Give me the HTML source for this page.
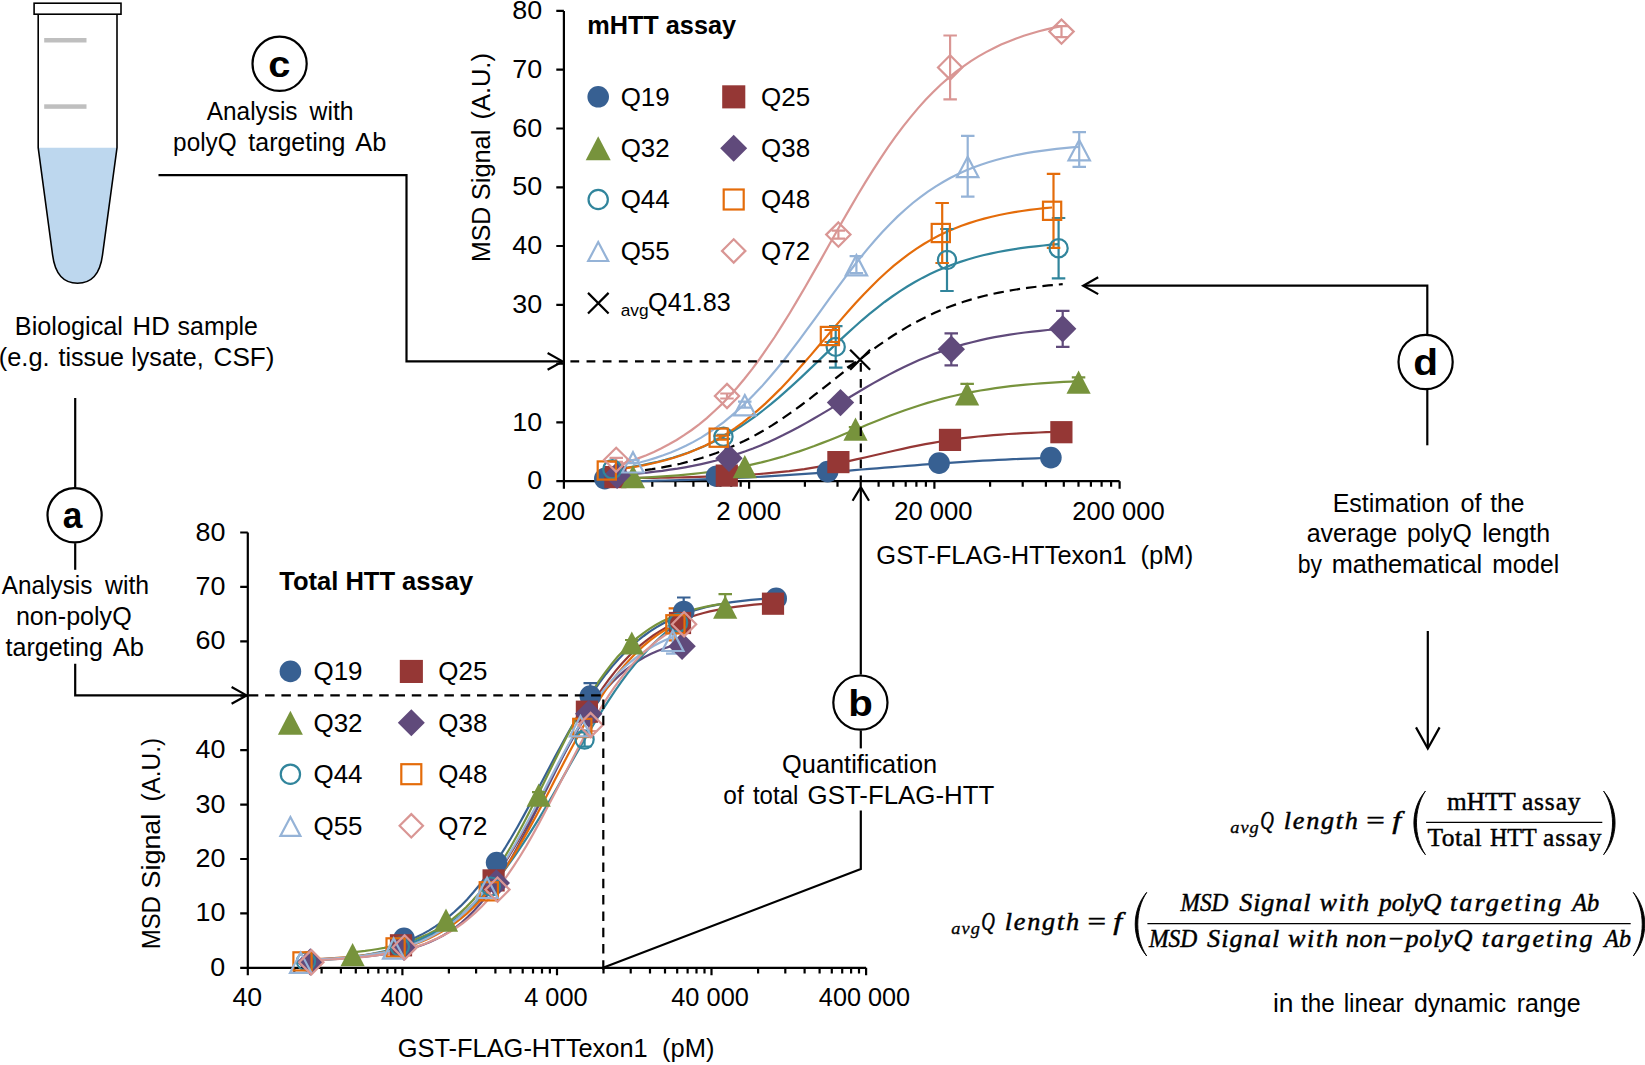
<!DOCTYPE html>
<html lang="en">
<head>
<meta charset="utf-8">
<title>mHTT / Total HTT assay polyQ length estimation workflow</title>
<style>
html,body{margin:0;padding:0;background:#fff;}
body{width:1645px;height:1065px;overflow:hidden;font-family:"Liberation Sans", Arial, Helvetica, sans-serif;}
svg text{fill:#000;}
</style>
</head>
<body>
<svg width="1645" height="1065" viewBox="0 0 1645 1065" style="display:block">
<rect x="0" y="0" width="1645" height="1065" fill="#fff"/>
<g id="tube">
<path d="M38.3,147.8 L117,147.8 L102.5,255 C100.3,272.3 92.3,283.2 77.5,283.2 C62.7,283.2 54.8,272.3 52.6,255 Z" fill="#BDD7EE"/>
<path d="M38.2,14.5 V147.8 L52.6,255 C54.8,272.3 62.7,283.2 77.5,283.2 C92.3,283.2 100.3,272.3 102.5,255 L117,147.8 V14.5" fill="none" stroke="#000" stroke-width="1.6"/>
<rect x="34.1" y="3.2" width="86.9" height="11" fill="#fff" stroke="#000" stroke-width="1.6"/>
<rect x="44.2" y="38" width="42.3" height="4.5" fill="#BFBFBF"/>
<rect x="44.2" y="104.3" width="42.3" height="4.5" fill="#BFBFBF"/>
</g>
<g id="flow">
<path d="M75.2,398V487.5" fill="none" stroke="#000" stroke-width="2.2"/>
<path d="M75.2,543.2V569.8" fill="none" stroke="#000" stroke-width="2.2"/>
<path d="M75.2,663.7V695.4H246" fill="none" stroke="#000" stroke-width="2.2"/>
<path d="M231.6,703.8L246.6,695.4L231.6,687.0" fill="none" stroke="#000" stroke-width="2.2" stroke-linejoin="miter"/>
<path d="M158.5,175.1H406.5V361.4H562" fill="none" stroke="#000" stroke-width="2.2"/>
<path d="M547.6,369.8L562.6,361.4L547.6,353.0" fill="none" stroke="#000" stroke-width="2.2" stroke-linejoin="miter"/>
<path d="M603,967.8L860.8,869V810.4" fill="none" stroke="#000" stroke-width="2.2"/>
<path d="M860.8,748.4V730.5" fill="none" stroke="#000" stroke-width="2.2"/>
<path d="M860.8,674.6V488.5" fill="none" stroke="#000" stroke-width="2.2"/>
<path d="M869.0,500.7L860.8,487.2L852.6,500.7" fill="none" stroke="#000" stroke-width="2.2" stroke-linejoin="miter"/>
<path d="M1084,285.7H1427.3V334.2" fill="none" stroke="#000" stroke-width="2.2"/>
<path d="M1098.2,277.3L1083.2,285.7L1098.2,294.1" fill="none" stroke="#000" stroke-width="2.2" stroke-linejoin="miter"/>
<path d="M1427.3,390V445.3" fill="none" stroke="#000" stroke-width="2.2"/>
<path d="M1427.8,631V747.5" fill="none" stroke="#000" stroke-width="2.2"/>
<path d="M1416.0,727.4L1427.8,748.6L1439.6,727.4" fill="none" stroke="#000" stroke-width="2.2" stroke-linejoin="miter"/>
<circle cx="74.6" cy="515.3" r="27.1" fill="#fff" stroke="#000" stroke-width="2.2"/>
<text transform="translate(62.84,527.50) scale(0.9415,1)" font-size="37.5" font-family='"Liberation Sans", Arial, Helvetica, sans-serif' font-weight="bold" font-style="normal">a</text>
<circle cx="279.6" cy="63.8" r="27.1" fill="#fff" stroke="#000" stroke-width="2.2"/>
<text transform="translate(268.31,77.30) scale(1.0612,1)" font-size="37.5" font-family='"Liberation Sans", Arial, Helvetica, sans-serif' font-weight="bold" font-style="normal">c</text>
<circle cx="860.4" cy="702.6" r="27.1" fill="#fff" stroke="#000" stroke-width="2.2"/>
<text transform="translate(848.19,715.80) scale(1.0719,1)" font-size="37.5" font-family='"Liberation Sans", Arial, Helvetica, sans-serif' font-weight="bold" font-style="normal">b</text>
<circle cx="1425.6" cy="362" r="27.1" fill="#fff" stroke="#000" stroke-width="2.2"/>
<text transform="translate(1413.18,375.00) scale(1.0825,1)" font-size="37.5" font-family='"Liberation Sans", Arial, Helvetica, sans-serif' font-weight="bold" font-style="normal">d</text>
</g>
<g id="total">
<path d="M247.8,532.5V967.8H866.1M240.2,967.8H247.8M240.2,913.4H247.8M240.2,859.0H247.8M240.2,804.6H247.8M240.2,750.1H247.8M240.2,695.7H247.8M240.2,641.3H247.8M240.2,586.9H247.8M240.2,532.5H247.8M247.8,967.8V975.3M294.3,967.8V973.4M321.6,967.8V973.4M340.9,967.8V973.4M355.8,967.8V973.4M368.1,967.8V973.4M378.4,967.8V973.4M387.4,967.8V973.4M395.3,967.8V973.4M402.4,967.8V975.3M448.9,967.8V973.4M476.1,967.8V973.4M495.4,967.8V973.4M510.4,967.8V973.4M522.7,967.8V973.4M533.0,967.8V973.4M542.0,967.8V973.4M549.9,967.8V973.4M557.0,967.8V975.3M603.5,967.8V973.4M630.7,967.8V973.4M650.0,967.8V973.4M665.0,967.8V973.4M677.2,967.8V973.4M687.6,967.8V973.4M696.5,967.8V973.4M704.5,967.8V973.4M711.5,967.8V975.3M758.1,967.8V973.4M785.3,967.8V973.4M804.6,967.8V973.4M819.6,967.8V973.4M831.8,967.8V973.4M842.2,967.8V973.4M851.1,967.8V973.4M859.0,967.8V973.4M866.1,967.8V975.3" fill="none" stroke="#000" stroke-width="2.2"/>
<text transform="translate(210.37,975.80) scale(1.0350,1)" font-size="26" font-family='"Liberation Sans", Arial, Helvetica, sans-serif' font-weight="normal" font-style="normal">0</text>
<text transform="translate(195.44,921.39) scale(1.0350,1)" font-size="26" font-family='"Liberation Sans", Arial, Helvetica, sans-serif' font-weight="normal" font-style="normal">10</text>
<text transform="translate(195.44,866.97) scale(1.0350,1)" font-size="26" font-family='"Liberation Sans", Arial, Helvetica, sans-serif' font-weight="normal" font-style="normal">20</text>
<text transform="translate(195.44,812.56) scale(1.0350,1)" font-size="26" font-family='"Liberation Sans", Arial, Helvetica, sans-serif' font-weight="normal" font-style="normal">30</text>
<text transform="translate(195.44,758.15) scale(1.0350,1)" font-size="26" font-family='"Liberation Sans", Arial, Helvetica, sans-serif' font-weight="normal" font-style="normal">40</text>
<text transform="translate(195.44,649.33) scale(1.0350,1)" font-size="26" font-family='"Liberation Sans", Arial, Helvetica, sans-serif' font-weight="normal" font-style="normal">60</text>
<text transform="translate(195.44,594.91) scale(1.0350,1)" font-size="26" font-family='"Liberation Sans", Arial, Helvetica, sans-serif' font-weight="normal" font-style="normal">70</text>
<text transform="translate(195.44,540.50) scale(1.0350,1)" font-size="26" font-family='"Liberation Sans", Arial, Helvetica, sans-serif' font-weight="normal" font-style="normal">80</text>
<text transform="translate(232.40,1006.30) scale(1.0256,1)" font-size="26" font-family='"Liberation Sans", Arial, Helvetica, sans-serif' font-weight="normal" font-style="normal">40</text>
<text transform="translate(380.42,1006.30) scale(0.9858,1)" font-size="26" font-family='"Liberation Sans", Arial, Helvetica, sans-serif' font-weight="normal" font-style="normal">400</text>
<text transform="translate(524.13,1006.30) scale(0.9763,1)" font-size="26" font-family='"Liberation Sans", Arial, Helvetica, sans-serif' font-weight="normal" font-style="normal">4 000</text>
<text transform="translate(671.23,1006.30) scale(0.9765,1)" font-size="26" font-family='"Liberation Sans", Arial, Helvetica, sans-serif' font-weight="normal" font-style="normal">40 000</text>
<text transform="translate(818.83,1006.30) scale(0.9722,1)" font-size="26" font-family='"Liberation Sans", Arial, Helvetica, sans-serif' font-weight="normal" font-style="normal">400 000</text>
</g>
<g id="mhtt">
<path d="M563.9,10.9V481.2H1119.6M556.3,481.2H563.9M556.3,422.4H563.9M556.3,363.6H563.9M556.3,304.8H563.9M556.3,246.0H563.9M556.3,187.3H563.9M556.3,128.5H563.9M556.3,69.7H563.9M556.3,10.9H563.9M563.9,481.2V488.7M619.7,481.2V486.8M652.3,481.2V486.8M675.4,481.2V486.8M693.4,481.2V486.8M708.0,481.2V486.8M720.4,481.2V486.8M731.2,481.2V486.8M740.7,481.2V486.8M749.1,481.2V488.7M804.9,481.2V486.8M837.5,481.2V486.8M860.7,481.2V486.8M878.6,481.2V486.8M893.3,481.2V486.8M905.7,481.2V486.8M916.4,481.2V486.8M925.9,481.2V486.8M934.4,481.2V488.7M990.1,481.2V486.8M1022.7,481.2V486.8M1045.9,481.2V486.8M1063.8,481.2V486.8M1078.5,481.2V486.8M1090.9,481.2V486.8M1101.6,481.2V486.8M1111.1,481.2V486.8M1119.6,481.2V488.7" fill="none" stroke="#000" stroke-width="2.2"/>
<text transform="translate(527.27,489.30) scale(1.0350,1)" font-size="26" font-family='"Liberation Sans", Arial, Helvetica, sans-serif' font-weight="normal" font-style="normal">0</text>
<text transform="translate(512.34,430.51) scale(1.0350,1)" font-size="26" font-family='"Liberation Sans", Arial, Helvetica, sans-serif' font-weight="normal" font-style="normal">10</text>
<text transform="translate(512.34,312.94) scale(1.0350,1)" font-size="26" font-family='"Liberation Sans", Arial, Helvetica, sans-serif' font-weight="normal" font-style="normal">30</text>
<text transform="translate(512.34,254.15) scale(1.0350,1)" font-size="26" font-family='"Liberation Sans", Arial, Helvetica, sans-serif' font-weight="normal" font-style="normal">40</text>
<text transform="translate(512.34,195.36) scale(1.0350,1)" font-size="26" font-family='"Liberation Sans", Arial, Helvetica, sans-serif' font-weight="normal" font-style="normal">50</text>
<text transform="translate(512.34,136.57) scale(1.0350,1)" font-size="26" font-family='"Liberation Sans", Arial, Helvetica, sans-serif' font-weight="normal" font-style="normal">60</text>
<text transform="translate(512.34,77.79) scale(1.0350,1)" font-size="26" font-family='"Liberation Sans", Arial, Helvetica, sans-serif' font-weight="normal" font-style="normal">70</text>
<text transform="translate(512.34,19.00) scale(1.0350,1)" font-size="26" font-family='"Liberation Sans", Arial, Helvetica, sans-serif' font-weight="normal" font-style="normal">80</text>
<text transform="translate(542.01,519.70) scale(0.9956,1)" font-size="26" font-family='"Liberation Sans", Arial, Helvetica, sans-serif' font-weight="normal" font-style="normal">200</text>
<text transform="translate(716.20,519.70) scale(0.9986,1)" font-size="26" font-family='"Liberation Sans", Arial, Helvetica, sans-serif' font-weight="normal" font-style="normal">2 000</text>
<text transform="translate(894.22,519.70) scale(0.9855,1)" font-size="26" font-family='"Liberation Sans", Arial, Helvetica, sans-serif' font-weight="normal" font-style="normal">20 000</text>
<text transform="translate(1072.22,519.70) scale(0.9853,1)" font-size="26" font-family='"Liberation Sans", Arial, Helvetica, sans-serif' font-weight="normal" font-style="normal">200 000</text>
</g>
<g id="total-data">
<path d="M404.0,942.5 L410.3,940.0 L416.6,937.1 L422.9,933.9 L429.2,930.4 L435.5,926.4 L441.9,922.0 L448.2,917.2 L454.5,911.8 L460.8,905.9 L467.1,899.4 L473.4,892.3 L479.7,884.7 L486.0,876.4 L492.3,867.6 L498.6,858.1 L504.9,848.2 L511.2,837.7 L517.6,826.7 L523.9,815.4 L530.2,803.8 L536.5,791.9 L542.8,780.0 L549.1,768.0 L555.4,756.1 L561.7,744.4 L568.0,733.0 L574.3,722.0 L580.6,711.4 L586.9,701.2 L593.3,691.6 L599.6,682.6 L605.9,674.2 L612.2,666.4 L618.5,659.2 L624.8,652.6 L631.1,646.5 L637.4,641.0 L643.7,636.0 L650.0,631.4 L656.3,627.4 L662.6,623.7 L669.0,620.4 L675.3,617.5 L681.6,614.9 L687.9,612.6 L694.2,610.5 L700.5,608.7 L706.8,607.0 L713.1,605.6 L719.4,604.3 L725.7,603.2 L732.0,602.2 L738.3,601.3 L744.7,600.6 L751.0,599.9 L757.3,599.3 L763.6,598.8 L769.9,598.3 L776.2,597.9" fill="none" stroke="#376092" stroke-width="2.2"/>
<path d="M401.0,948.1 L407.3,946.1 L413.6,943.9 L419.9,941.4 L426.2,938.6 L432.5,935.4 L438.8,931.8 L445.1,927.9 L451.4,923.4 L457.7,918.4 L464.1,912.9 L470.4,906.9 L476.7,900.2 L483.0,892.9 L489.3,885.0 L495.6,876.4 L501.9,867.2 L508.2,857.4 L514.5,847.0 L520.8,836.1 L527.1,824.7 L533.4,812.9 L539.7,800.9 L546.0,788.7 L552.3,776.4 L558.6,764.1 L564.9,752.0 L571.2,740.2 L577.5,728.7 L583.8,717.7 L590.2,707.2 L596.5,697.2 L602.8,687.9 L609.1,679.2 L615.4,671.1 L621.7,663.7 L628.0,656.9 L634.3,650.7 L640.6,645.1 L646.9,640.1 L653.2,635.5 L659.5,631.4 L665.8,627.8 L672.1,624.5 L678.4,621.6 L684.7,619.1 L691.0,616.8 L697.3,614.8 L703.6,613.0 L709.9,611.4 L716.3,610.1 L722.6,608.9 L728.9,607.8 L735.2,606.9 L741.5,606.1 L747.8,605.3 L754.1,604.7 L760.4,604.2 L766.7,603.7 L773.0,603.3" fill="none" stroke="#953735" stroke-width="2.2"/>
<path d="M352.6,952.3 L358.9,951.6 L365.2,950.9 L371.5,950.0 L377.9,949.0 L384.2,947.9 L390.5,946.6 L396.8,945.1 L403.1,943.4 L409.4,941.5 L415.8,939.3 L422.1,936.8 L428.4,933.9 L434.7,930.6 L441.0,926.9 L447.3,922.8 L453.6,918.1 L460.0,912.9 L466.3,907.1 L472.6,900.6 L478.9,893.5 L485.2,885.6 L491.5,877.1 L497.9,867.8 L504.2,857.8 L510.5,847.2 L516.8,836.0 L523.1,824.2 L529.4,811.9 L535.7,799.3 L542.1,786.5 L548.4,773.6 L554.7,760.7 L561.0,748.0 L567.3,735.5 L573.6,723.5 L579.9,712.0 L586.3,701.1 L592.6,690.8 L598.9,681.2 L605.2,672.3 L611.5,664.1 L617.8,656.6 L624.2,649.9 L630.5,643.7 L636.8,638.2 L643.1,633.3 L649.4,628.9 L655.7,625.0 L662.0,621.6 L668.4,618.5 L674.7,615.8 L681.0,613.5 L687.3,611.4 L693.6,609.6 L699.9,608.0 L706.3,606.6 L712.6,605.4 L718.9,604.4 L725.2,603.5" fill="none" stroke="#77933C" stroke-width="2.2"/>
<path d="M310.4,959.3 L316.7,959.2 L323.0,959.0 L329.3,958.7 L335.6,958.5 L341.9,958.2 L348.2,957.8 L354.5,957.4 L360.8,956.9 L367.1,956.3 L373.4,955.7 L379.7,954.9 L386.0,954.0 L392.3,952.9 L398.6,951.7 L404.9,950.3 L411.2,948.6 L417.5,946.7 L423.8,944.5 L430.1,942.0 L436.4,939.1 L442.7,935.7 L449.0,931.9 L455.3,927.5 L461.6,922.5 L467.9,916.9 L474.2,910.6 L480.5,903.6 L486.8,895.8 L493.1,887.3 L499.4,878.0 L505.7,867.9 L512.0,857.0 L518.3,845.6 L524.6,833.6 L530.9,821.1 L537.2,808.4 L543.5,795.5 L549.8,782.7 L556.1,770.0 L562.4,757.6 L568.7,745.7 L575.0,734.4 L581.3,723.7 L587.6,713.8 L593.9,704.6 L600.2,696.2 L606.5,688.6 L612.8,681.8 L619.1,675.6 L625.4,670.2 L631.7,665.3 L638.0,661.1 L644.3,657.3 L650.6,654.1 L656.9,651.2 L663.2,648.8 L669.5,646.6 L675.8,644.8 L682.1,643.2" fill="none" stroke="#604A7B" stroke-width="2.2"/>
<path d="M306.0,961.4 L312.3,961.0 L318.6,960.5 L324.9,960.0 L331.2,959.4 L337.5,958.8 L343.8,958.1 L350.1,957.3 L356.5,956.4 L362.8,955.4 L369.1,954.3 L375.4,953.1 L381.7,951.7 L388.0,950.2 L394.3,948.5 L400.6,946.6 L406.9,944.5 L413.2,942.2 L419.5,939.7 L425.8,936.8 L432.1,933.7 L438.4,930.3 L444.7,926.5 L451.1,922.4 L457.4,917.9 L463.7,912.9 L470.0,907.6 L476.3,901.7 L482.6,895.5 L488.9,888.7 L495.2,881.5 L501.5,873.7 L507.8,865.5 L514.1,856.8 L520.4,847.7 L526.7,838.1 L533.0,828.1 L539.4,817.9 L545.7,807.3 L552.0,796.5 L558.3,785.5 L564.6,774.4 L570.9,763.3 L577.2,752.3 L583.5,741.4 L589.8,730.7 L596.1,720.2 L602.4,710.1 L608.7,700.3 L615.0,690.9 L621.3,681.9 L627.6,673.4 L634.0,665.4 L640.3,657.9 L646.6,650.9 L652.9,644.3 L659.2,638.2 L665.5,632.6 L671.8,627.4 L678.1,622.7" fill="none" stroke="#31859C" stroke-width="2.2"/>
<path d="M302.5,959.7 L308.8,959.5 L315.1,959.2 L321.5,958.9 L327.8,958.5 L334.1,958.1 L340.4,957.7 L346.7,957.2 L353.1,956.6 L359.4,955.9 L365.7,955.1 L372.0,954.2 L378.3,953.2 L384.7,952.1 L391.0,950.8 L397.3,949.3 L403.6,947.6 L409.9,945.8 L416.3,943.6 L422.6,941.2 L428.9,938.5 L435.2,935.4 L441.5,931.9 L447.9,928.0 L454.2,923.7 L460.5,918.9 L466.8,913.6 L473.1,907.7 L479.5,901.2 L485.8,894.1 L492.1,886.4 L498.4,878.0 L504.8,869.0 L511.1,859.3 L517.4,849.1 L523.7,838.4 L530.0,827.1 L536.4,815.5 L542.7,803.6 L549.0,791.4 L555.3,779.1 L561.6,766.9 L568.0,754.8 L574.3,742.9 L580.6,731.3 L586.9,720.1 L593.2,709.4 L599.6,699.3 L605.9,689.7 L612.2,680.8 L618.5,672.5 L624.8,664.9 L631.2,657.9 L637.5,651.5 L643.8,645.7 L650.1,640.4 L656.4,635.7 L662.8,631.4 L669.1,627.6 L675.4,624.2" fill="none" stroke="#E46C0A" stroke-width="2.2"/>
<path d="M300.7,959.9 L307.0,959.7 L313.3,959.5 L319.6,959.2 L325.9,958.9 L332.2,958.5 L338.5,958.1 L344.8,957.6 L351.2,957.0 L357.5,956.3 L363.8,955.6 L370.1,954.7 L376.4,953.7 L382.7,952.6 L389.0,951.3 L395.3,949.8 L401.6,948.1 L407.9,946.2 L414.2,944.0 L420.5,941.5 L426.8,938.6 L433.1,935.4 L439.4,931.8 L445.8,927.8 L452.1,923.2 L458.4,918.1 L464.7,912.4 L471.0,906.2 L477.3,899.3 L483.6,891.7 L489.9,883.5 L496.2,874.6 L502.5,865.1 L508.8,854.9 L515.1,844.2 L521.4,833.0 L527.7,821.4 L534.1,809.5 L540.4,797.5 L546.7,785.3 L553.0,773.2 L559.3,761.2 L565.6,749.6 L571.9,738.3 L578.2,727.5 L584.5,717.3 L590.8,707.7 L597.1,698.7 L603.4,690.3 L609.7,682.7 L616.0,675.6 L622.3,669.3 L628.7,663.5 L635.0,658.3 L641.3,653.6 L647.6,649.5 L653.9,645.8 L660.2,642.5 L666.5,639.6 L672.8,637.1" fill="none" stroke="#95B3D7" stroke-width="2.2"/>
<path d="M311.4,960.3 L317.7,960.1 L324.0,959.8 L330.4,959.5 L336.7,959.1 L343.0,958.7 L349.3,958.2 L355.6,957.7 L361.9,957.1 L368.3,956.4 L374.6,955.6 L380.9,954.7 L387.2,953.6 L393.5,952.5 L399.8,951.1 L406.2,949.6 L412.5,947.9 L418.8,945.9 L425.1,943.7 L431.4,941.1 L437.7,938.3 L444.1,935.1 L450.4,931.5 L456.7,927.5 L463.0,923.0 L469.3,918.0 L475.6,912.5 L482.0,906.3 L488.3,899.6 L494.6,892.3 L500.9,884.3 L507.2,875.7 L513.5,866.4 L519.9,856.5 L526.2,846.1 L532.5,835.1 L538.8,823.6 L545.1,811.8 L551.4,799.8 L557.8,787.5 L564.1,775.2 L570.4,762.9 L576.7,750.8 L583.0,739.0 L589.3,727.6 L595.7,716.6 L602.0,706.1 L608.3,696.2 L614.6,686.9 L620.9,678.3 L627.2,670.3 L633.6,662.9 L639.9,656.2 L646.2,650.1 L652.5,644.5 L658.8,639.5 L665.1,635.0 L671.5,631.0 L677.8,627.4 L684.1,624.2" fill="none" stroke="#D99694" stroke-width="2.2"/>
<path d="M590.3,683.1V709.1M583.5,683.1h13.5M583.5,709.1h13.5" fill="none" stroke="#376092" stroke-width="2.2"/>
<path d="M683.7,597.5V625.5M677.0,597.5h13.5M677.0,625.5h13.5" fill="none" stroke="#376092" stroke-width="2.2"/>
<path d="M538.7,792.1V798.1M532.0,792.1h13.5M532.0,798.1h13.5" fill="none" stroke="#77933C" stroke-width="2.2"/>
<path d="M631.8,640.0V646.0M625.0,640.0h13.5M625.0,646.0h13.5" fill="none" stroke="#77933C" stroke-width="2.2"/>
<path d="M725.2,594.1V607.1M718.5,594.1h13.5" fill="none" stroke="#77933C" stroke-width="2.2"/>
<path d="M584.6,732.5V746.5M577.9,732.5h13.5M577.9,746.5h13.5" fill="none" stroke="#31859C" stroke-width="2.2"/>
<path d="M675.4,608.3V640.3M668.6,608.3h13.5M668.6,640.3h13.5" fill="none" stroke="#E46C0A" stroke-width="2.2"/>
<path d="M672.8,626.7V653.7M666.0,626.7h13.5M666.0,653.7h13.5" fill="none" stroke="#95B3D7" stroke-width="2.2"/>
<path d="M590.6,719.0V731.0M583.9,719.0h13.5M583.9,731.0h13.5" fill="none" stroke="#D99694" stroke-width="2.2"/>
<circle cx="404.0" cy="938.3" r="10.80" fill="#376092"/>
<circle cx="496.6" cy="862.6" r="10.80" fill="#376092"/>
<circle cx="590.3" cy="696.1" r="10.80" fill="#376092"/>
<circle cx="683.7" cy="611.5" r="10.80" fill="#376092"/>
<circle cx="776.2" cy="598.4" r="10.80" fill="#376092"/>
<rect x="389.9" y="934.2" width="22.2" height="22.2" fill="#953735"/>
<rect x="482.5" y="869.3" width="22.2" height="22.2" fill="#953735"/>
<rect x="575.8" y="700.6" width="22.2" height="22.2" fill="#953735"/>
<rect x="668.9" y="611.9" width="22.2" height="22.2" fill="#953735"/>
<rect x="761.9" y="592.6" width="22.2" height="22.2" fill="#953735"/>
<polygon points="352.6,943.1 364.7,966.3 340.5,966.3" fill="#77933C"/>
<polygon points="446.0,908.6 458.1,931.8 433.9,931.8" fill="#77933C"/>
<polygon points="538.7,783.5 550.8,806.7 526.6,806.7" fill="#77933C"/>
<polygon points="631.8,631.4 643.9,654.6 619.7,654.6" fill="#77933C"/>
<polygon points="725.2,595.5 737.3,618.7 713.1,618.7" fill="#77933C"/>
<polygon points="310.4,948.3 324.1,962.0 310.4,975.7 296.7,962.0" fill="#604A7B"/>
<polygon points="404.0,933.7 417.7,947.4 404.0,961.1 390.3,947.4" fill="#604A7B"/>
<polygon points="496.3,869.3 510.0,883.0 496.3,896.7 482.6,883.0" fill="#604A7B"/>
<polygon points="588.7,700.0 602.4,713.7 588.7,727.4 575.0,713.7" fill="#604A7B"/>
<polygon points="682.1,632.6 695.8,646.3 682.1,660.0 668.4,646.3" fill="#604A7B"/>
<circle cx="306.0" cy="961.4" r="9.10" fill="none" stroke="#31859C" stroke-width="2.2"/>
<circle cx="399.8" cy="946.8" r="9.10" fill="none" stroke="#31859C" stroke-width="2.2"/>
<circle cx="490.8" cy="886.6" r="9.10" fill="none" stroke="#31859C" stroke-width="2.2"/>
<circle cx="584.6" cy="739.5" r="9.10" fill="none" stroke="#31859C" stroke-width="2.2"/>
<circle cx="678.1" cy="622.7" r="9.10" fill="none" stroke="#31859C" stroke-width="2.2"/>
<rect x="293.4" y="952.3" width="18.2" height="18.2" fill="none" stroke="#E46C0A" stroke-width="2.2"/>
<rect x="386.5" y="938.3" width="18.2" height="18.2" fill="none" stroke="#E46C0A" stroke-width="2.2"/>
<rect x="479.7" y="882.2" width="18.2" height="18.2" fill="none" stroke="#E46C0A" stroke-width="2.2"/>
<rect x="573.2" y="718.8" width="18.2" height="18.2" fill="none" stroke="#E46C0A" stroke-width="2.2"/>
<rect x="666.3" y="615.2" width="18.2" height="18.2" fill="none" stroke="#E46C0A" stroke-width="2.2"/>
<polygon points="300.7,952.5 311.4,972.8 290.0,972.8" fill="none" stroke="#95B3D7" stroke-width="2.2" stroke-linejoin="miter"/>
<polygon points="393.7,938.4 404.4,958.7 383.0,958.7" fill="none" stroke="#95B3D7" stroke-width="2.2" stroke-linejoin="miter"/>
<polygon points="487.1,877.7 497.8,898.0 476.4,898.0" fill="none" stroke="#95B3D7" stroke-width="2.2" stroke-linejoin="miter"/>
<polygon points="580.5,716.0 591.2,736.3 569.8,736.3" fill="none" stroke="#95B3D7" stroke-width="2.2" stroke-linejoin="miter"/>
<polygon points="672.8,630.7 683.5,651.0 662.1,651.0" fill="none" stroke="#95B3D7" stroke-width="2.2" stroke-linejoin="miter"/>
<polygon points="311.4,950.1 323.5,962.2 311.4,974.4 299.2,962.2" fill="none" stroke="#D99694" stroke-width="2.2" stroke-linejoin="miter"/>
<polygon points="404.6,935.2 416.8,947.4 404.6,959.5 392.5,947.4" fill="none" stroke="#D99694" stroke-width="2.2" stroke-linejoin="miter"/>
<polygon points="497.5,877.5 509.6,889.6 497.5,901.8 485.4,889.6" fill="none" stroke="#D99694" stroke-width="2.2" stroke-linejoin="miter"/>
<polygon points="590.6,712.9 602.8,725.0 590.6,737.1 578.5,725.0" fill="none" stroke="#D99694" stroke-width="2.2" stroke-linejoin="miter"/>
<polygon points="684.1,612.1 696.2,624.3 684.1,636.4 672.0,624.3" fill="none" stroke="#D99694" stroke-width="2.2" stroke-linejoin="miter"/>
<path d="M248.8,695.4H603.3V973" fill="none" stroke="#000" stroke-width="2.2" stroke-dasharray="9.5 6.8"/>
</g>
<g id="mhtt-data">
<path d="M604.8,481.6 L612.4,481.5 L619.9,481.4 L627.5,481.3 L635.0,481.1 L642.6,481.0 L650.2,480.8 L657.7,480.7 L665.3,480.5 L672.8,480.3 L680.4,480.1 L688.0,479.8 L695.5,479.6 L703.1,479.3 L710.7,479.1 L718.2,478.8 L725.8,478.4 L733.3,478.1 L740.9,477.7 L748.5,477.4 L756.0,477.0 L763.6,476.6 L771.1,476.1 L778.7,475.7 L786.3,475.2 L793.8,474.7 L801.4,474.2 L808.9,473.6 L816.5,473.1 L824.1,472.5 L831.6,471.9 L839.2,471.4 L846.8,470.8 L854.3,470.2 L861.9,469.5 L869.4,468.9 L877.0,468.3 L884.6,467.7 L892.1,467.1 L899.7,466.5 L907.2,465.9 L914.8,465.3 L922.4,464.7 L929.9,464.2 L937.5,463.6 L945.0,463.1 L952.6,462.6 L960.2,462.1 L967.7,461.6 L975.3,461.2 L982.9,460.7 L990.4,460.3 L998.0,459.9 L1005.5,459.6 L1013.1,459.2 L1020.7,458.9 L1028.2,458.6 L1035.8,458.3 L1043.3,458.0 L1050.9,457.7" fill="none" stroke="#376092" stroke-width="2.2"/>
<path d="M615.4,478.1 L623.0,478.1 L630.5,478.0 L638.1,477.9 L645.6,477.9 L653.2,477.8 L660.8,477.7 L668.3,477.6 L675.9,477.5 L683.4,477.3 L691.0,477.1 L698.6,476.9 L706.1,476.7 L713.7,476.5 L721.2,476.2 L728.8,475.9 L736.3,475.5 L743.9,475.1 L751.5,474.6 L759.0,474.0 L766.6,473.4 L774.1,472.7 L781.7,471.9 L789.3,471.1 L796.8,470.1 L804.4,469.1 L811.9,467.9 L819.5,466.7 L827.1,465.4 L834.6,463.9 L842.2,462.4 L849.7,460.8 L857.3,459.2 L864.9,457.5 L872.4,455.7 L880.0,454.0 L887.5,452.3 L895.1,450.5 L902.7,448.9 L910.2,447.2 L917.8,445.7 L925.3,444.2 L932.9,442.8 L940.5,441.5 L948.0,440.3 L955.6,439.2 L963.1,438.2 L970.7,437.3 L978.2,436.5 L985.8,435.8 L993.4,435.1 L1000.9,434.6 L1008.5,434.0 L1016.0,433.6 L1023.6,433.2 L1031.2,432.8 L1038.7,432.5 L1046.3,432.2 L1053.8,432.0 L1061.4,431.8" fill="none" stroke="#953735" stroke-width="2.2"/>
<path d="M633.0,478.1 L640.6,477.8 L648.1,477.4 L655.7,476.9 L663.2,476.4 L670.8,475.9 L678.3,475.3 L685.9,474.6 L693.4,473.8 L701.0,473.0 L708.5,472.1 L716.1,471.0 L723.6,469.9 L731.2,468.7 L738.7,467.3 L746.3,465.8 L753.8,464.1 L761.4,462.4 L768.9,460.5 L776.5,458.4 L784.1,456.2 L791.6,453.8 L799.2,451.4 L806.7,448.7 L814.3,446.0 L821.8,443.1 L829.4,440.2 L836.9,437.2 L844.5,434.1 L852.0,431.0 L859.6,427.9 L867.1,424.8 L874.7,421.8 L882.2,418.8 L889.8,415.8 L897.3,413.0 L904.9,410.3 L912.4,407.7 L920.0,405.2 L927.5,402.9 L935.1,400.7 L942.7,398.6 L950.2,396.7 L957.8,395.0 L965.3,393.4 L972.9,391.9 L980.4,390.5 L988.0,389.3 L995.5,388.2 L1003.1,387.2 L1010.6,386.2 L1018.2,385.4 L1025.7,384.7 L1033.3,384.0 L1040.8,383.4 L1048.4,382.9 L1055.9,382.4 L1063.5,381.9 L1071.0,381.6 L1078.6,381.2" fill="none" stroke="#77933C" stroke-width="2.2"/>
<path d="M617.1,475.2 L624.7,474.7 L632.2,474.1 L639.8,473.4 L647.3,472.6 L654.9,471.7 L662.4,470.8 L670.0,469.7 L677.5,468.6 L685.1,467.3 L692.6,465.9 L700.2,464.3 L707.7,462.6 L715.3,460.7 L722.8,458.6 L730.4,456.4 L737.9,453.9 L745.5,451.3 L753.0,448.5 L760.6,445.4 L768.2,442.2 L775.7,438.7 L783.3,435.1 L790.8,431.3 L798.4,427.3 L805.9,423.1 L813.5,418.8 L821.0,414.4 L828.6,409.9 L836.1,405.4 L843.7,400.8 L851.2,396.2 L858.8,391.7 L866.3,387.3 L873.9,382.9 L881.4,378.7 L889.0,374.6 L896.5,370.7 L904.1,366.9 L911.6,363.4 L919.2,360.0 L926.8,356.9 L934.3,353.9 L941.9,351.2 L949.4,348.6 L957.0,346.3 L964.5,344.1 L972.1,342.2 L979.6,340.4 L987.2,338.7 L994.7,337.2 L1002.3,335.9 L1009.8,334.6 L1017.4,333.5 L1024.9,332.5 L1032.5,331.6 L1040.0,330.8 L1047.6,330.0 L1055.1,329.4 L1062.7,328.8" fill="none" stroke="#604A7B" stroke-width="2.2"/>
<path d="M612.3,469.7 L619.9,468.7 L627.4,467.6 L635.0,466.3 L642.6,465.0 L650.1,463.4 L657.7,461.7 L665.3,459.8 L672.8,457.7 L680.4,455.3 L687.9,452.7 L695.5,449.8 L703.1,446.7 L710.6,443.3 L718.2,439.5 L725.8,435.4 L733.3,431.0 L740.9,426.3 L748.5,421.2 L756.0,415.8 L763.6,410.0 L771.2,403.9 L778.7,397.6 L786.3,390.9 L793.8,384.1 L801.4,377.1 L809.0,369.9 L816.5,362.7 L824.1,355.4 L831.7,348.1 L839.2,340.9 L846.8,333.9 L854.4,327.0 L861.9,320.3 L869.5,313.9 L877.1,307.8 L884.6,302.0 L892.2,296.5 L899.7,291.3 L907.3,286.5 L914.9,282.0 L922.4,277.9 L930.0,274.1 L937.6,270.6 L945.1,267.4 L952.7,264.5 L960.3,261.9 L967.8,259.5 L975.4,257.3 L983.0,255.3 L990.5,253.6 L998.1,252.0 L1005.6,250.6 L1013.2,249.3 L1020.8,248.2 L1028.3,247.2 L1035.9,246.3 L1043.5,245.5 L1051.0,244.7 L1058.6,244.1" fill="none" stroke="#31859C" stroke-width="2.2"/>
<path d="M606.8,470.7 L614.3,469.8 L621.9,468.8 L629.4,467.7 L637.0,466.5 L644.5,465.1 L652.1,463.5 L659.6,461.7 L667.2,459.7 L674.7,457.5 L682.3,455.0 L689.8,452.2 L697.4,449.1 L704.9,445.7 L712.5,441.9 L720.0,437.7 L727.6,433.1 L735.1,428.1 L742.7,422.6 L750.2,416.7 L757.7,410.4 L765.3,403.6 L772.8,396.4 L780.4,388.9 L787.9,380.9 L795.5,372.6 L803.0,364.1 L810.6,355.4 L818.1,346.5 L825.7,337.6 L833.2,328.7 L840.8,319.9 L848.3,311.3 L855.9,302.8 L863.4,294.7 L871.0,286.9 L878.5,279.5 L886.1,272.5 L893.6,265.9 L901.2,259.8 L908.7,254.1 L916.2,248.8 L923.8,244.0 L931.3,239.6 L938.9,235.6 L946.4,232.0 L954.0,228.7 L961.5,225.7 L969.1,223.1 L976.6,220.7 L984.2,218.6 L991.7,216.7 L999.3,215.0 L1006.8,213.5 L1014.4,212.2 L1021.9,211.0 L1029.5,209.9 L1037.0,209.0 L1044.6,208.2 L1052.1,207.5" fill="none" stroke="#E46C0A" stroke-width="2.2"/>
<path d="M633.0,464.2 L640.6,462.3 L648.1,460.2 L655.7,457.9 L663.3,455.3 L670.8,452.5 L678.4,449.3 L685.9,445.8 L693.5,441.9 L701.1,437.6 L708.6,432.8 L716.2,427.7 L723.8,422.1 L731.3,415.9 L738.9,409.3 L746.4,402.2 L754.0,394.6 L761.6,386.6 L769.1,378.0 L776.7,369.0 L784.3,359.7 L791.8,349.9 L799.4,339.9 L806.9,329.7 L814.5,319.3 L822.1,308.9 L829.6,298.4 L837.2,288.1 L844.8,277.9 L852.3,268.0 L859.9,258.3 L867.4,249.1 L875.0,240.2 L882.6,231.8 L890.1,223.9 L897.7,216.4 L905.3,209.5 L912.8,203.0 L920.4,197.1 L927.9,191.6 L935.5,186.6 L943.1,182.0 L950.6,177.8 L958.2,174.0 L965.8,170.6 L973.3,167.5 L980.9,164.7 L988.4,162.2 L996.0,160.0 L1003.6,158.0 L1011.1,156.2 L1018.7,154.6 L1026.3,153.2 L1033.8,151.9 L1041.4,150.8 L1048.9,149.8 L1056.5,148.9 L1064.1,148.1 L1071.6,147.4 L1079.2,146.8" fill="none" stroke="#95B3D7" stroke-width="2.2"/>
<path d="M616.2,465.4 L623.7,463.2 L631.3,460.8 L638.8,458.1 L646.4,455.2 L653.9,451.9 L661.5,448.3 L669.0,444.3 L676.6,440.0 L684.1,435.2 L691.7,430.0 L699.2,424.3 L706.8,418.1 L714.3,411.3 L721.9,404.1 L729.4,396.2 L737.0,387.8 L744.5,378.8 L752.1,369.1 L759.6,359.0 L767.1,348.2 L774.7,337.0 L782.2,325.2 L789.8,313.0 L797.3,300.4 L804.9,287.5 L812.4,274.4 L820.0,261.1 L827.5,247.7 L835.1,234.3 L842.6,221.0 L850.2,207.9 L857.7,195.0 L865.3,182.4 L872.8,170.3 L880.4,158.6 L887.9,147.4 L895.5,136.7 L903.0,126.6 L910.6,117.1 L918.1,108.1 L925.6,99.7 L933.2,92.0 L940.7,84.7 L948.3,78.1 L955.8,71.9 L963.4,66.3 L970.9,61.1 L978.5,56.4 L986.0,52.1 L993.6,48.2 L1001.1,44.6 L1008.7,41.4 L1016.2,38.5 L1023.8,35.8 L1031.3,33.5 L1038.9,31.3 L1046.4,29.4 L1054.0,27.6 L1061.5,26.1" fill="none" stroke="#D99694" stroke-width="2.2"/>
<path d="M645.0,470.2 L652.1,469.2 L659.2,468.0 L666.2,466.7 L673.3,465.3 L680.4,463.7 L687.5,461.9 L694.6,460.0 L701.6,458.0 L708.7,455.7 L715.8,453.2 L722.9,450.5 L730.0,447.6 L737.0,444.4 L744.1,441.0 L751.2,437.4 L758.3,433.5 L765.4,429.4 L772.4,425.1 L779.5,420.5 L786.6,415.7 L793.7,410.7 L800.8,405.5 L807.8,400.2 L814.9,394.7 L822.0,389.2 L829.1,383.6 L836.2,377.9 L843.2,372.3 L850.3,366.7 L857.4,361.2 L864.5,355.8 L871.5,350.5 L878.6,345.4 L885.7,340.5 L892.8,335.8 L899.9,331.4 L906.9,327.1 L914.0,323.1 L921.1,319.4 L928.2,315.9 L935.3,312.6 L942.3,309.6 L949.4,306.8 L956.5,304.2 L963.6,301.8 L970.7,299.6 L977.7,297.6 L984.8,295.8 L991.9,294.1 L999.0,292.6 L1006.1,291.3 L1013.1,290.0 L1020.2,288.9 L1027.3,287.9 L1034.4,287.0 L1041.5,286.2 L1048.5,285.4 L1055.6,284.8 L1062.7,284.2" fill="none" stroke="#000" stroke-width="2.2" stroke-dasharray="10.5 6"/>
<path d="M855.5,427.2V431.2M848.8,427.2h13.5M848.8,431.2h13.5" fill="none" stroke="#77933C" stroke-width="2.2"/>
<path d="M967.1,383.8V403.8M960.4,383.8h13.5M960.4,403.8h13.5" fill="none" stroke="#77933C" stroke-width="2.2"/>
<path d="M1078.6,377.4V386.8M1071.8,377.4h13.5M1071.8,386.8h13.5" fill="none" stroke="#77933C" stroke-width="2.2"/>
<path d="M840.5,398.6V406.6M833.8,398.6h13.5M833.8,406.6h13.5" fill="none" stroke="#604A7B" stroke-width="2.2"/>
<path d="M951.3,333.3V365.3M944.5,333.3h13.5M944.5,365.3h13.5" fill="none" stroke="#604A7B" stroke-width="2.2"/>
<path d="M1062.7,310.8V346.8M1056.0,310.8h13.5M1056.0,346.8h13.5" fill="none" stroke="#604A7B" stroke-width="2.2"/>
<path d="M612.3,467.8V470.8M605.5,467.8h13.5M605.5,470.8h13.5" fill="none" stroke="#31859C" stroke-width="2.2"/>
<path d="M723.5,434.8V438.8M716.8,434.8h13.5M716.8,438.8h13.5" fill="none" stroke="#31859C" stroke-width="2.2"/>
<path d="M835.7,326.1V367.7M829.0,326.1h13.5M829.0,367.7h13.5" fill="none" stroke="#31859C" stroke-width="2.2"/>
<path d="M947.0,229.0V291.0M940.2,229.0h13.5M940.2,291.0h13.5" fill="none" stroke="#31859C" stroke-width="2.2"/>
<path d="M1058.6,218.0V278.4M1051.8,218.0h13.5M1051.8,278.4h13.5" fill="none" stroke="#31859C" stroke-width="2.2"/>
<path d="M608.2,469.0V472.0M601.4,469.0h13.5M601.4,472.0h13.5" fill="none" stroke="#E46C0A" stroke-width="2.2"/>
<path d="M720.1,435.7V439.7M713.4,435.7h13.5M713.4,439.7h13.5" fill="none" stroke="#E46C0A" stroke-width="2.2"/>
<path d="M831.3,330.0V342.0M824.5,330.0h13.5M824.5,342.0h13.5" fill="none" stroke="#E46C0A" stroke-width="2.2"/>
<path d="M942.2,203.0V263.0M935.4,203.0h13.5M935.4,263.0h13.5" fill="none" stroke="#E46C0A" stroke-width="2.2"/>
<path d="M1053.5,173.8V247.8M1046.8,173.8h13.5M1046.8,247.8h13.5" fill="none" stroke="#E46C0A" stroke-width="2.2"/>
<path d="M633.0,460.2V463.2M626.2,460.2h13.5M626.2,463.2h13.5" fill="none" stroke="#95B3D7" stroke-width="2.2"/>
<path d="M744.8,401.6V407.6M738.0,401.6h13.5M738.0,407.6h13.5" fill="none" stroke="#95B3D7" stroke-width="2.2"/>
<path d="M856.4,256.1V273.1M849.6,256.1h13.5M849.6,273.1h13.5" fill="none" stroke="#95B3D7" stroke-width="2.2"/>
<path d="M967.7,135.9V196.7M961.0,135.9h13.5M961.0,196.7h13.5" fill="none" stroke="#95B3D7" stroke-width="2.2"/>
<path d="M1079.2,132.1V166.9M1072.5,132.1h13.5M1072.5,166.9h13.5" fill="none" stroke="#95B3D7" stroke-width="2.2"/>
<path d="M616.2,457.8V461.8M609.5,457.8h13.5M609.5,461.8h13.5" fill="none" stroke="#D99694" stroke-width="2.2"/>
<path d="M727.0,393.5V398.5M720.2,393.5h13.5M720.2,398.5h13.5" fill="none" stroke="#D99694" stroke-width="2.2"/>
<path d="M838.4,230.6V238.6M831.6,230.6h13.5M831.6,238.6h13.5" fill="none" stroke="#D99694" stroke-width="2.2"/>
<path d="M950.1,35.5V99.3M943.4,35.5h13.5M943.4,99.3h13.5" fill="none" stroke="#D99694" stroke-width="2.2"/>
<path d="M1061.5,26.1V37.1M1054.8,26.1h13.5M1054.8,37.1h13.5" fill="none" stroke="#D99694" stroke-width="2.2"/>
<circle cx="604.8" cy="478.6" r="10.80" fill="#376092"/>
<circle cx="716.6" cy="476.2" r="10.80" fill="#376092"/>
<circle cx="827.6" cy="471.6" r="10.80" fill="#376092"/>
<circle cx="939.1" cy="463.1" r="10.80" fill="#376092"/>
<circle cx="1050.9" cy="457.6" r="10.80" fill="#376092"/>
<rect x="604.3" y="466.0" width="22.2" height="22.2" fill="#953735"/>
<rect x="715.7" y="464.5" width="22.2" height="22.2" fill="#953735"/>
<rect x="827.3" y="451.0" width="22.2" height="22.2" fill="#953735"/>
<rect x="938.9" y="428.8" width="22.2" height="22.2" fill="#953735"/>
<rect x="1050.3" y="421.1" width="22.2" height="22.2" fill="#953735"/>
<polygon points="633.0,465.0 645.1,488.2 620.9,488.2" fill="#77933C"/>
<polygon points="744.8,455.0 756.9,478.2 732.7,478.2" fill="#77933C"/>
<polygon points="855.5,417.6 867.6,440.8 843.4,440.8" fill="#77933C"/>
<polygon points="967.1,382.2 979.2,405.4 955.0,405.4" fill="#77933C"/>
<polygon points="1078.6,370.5 1090.7,393.7 1066.5,393.7" fill="#77933C"/>
<polygon points="617.1,461.7 630.8,475.4 617.1,489.1 603.4,475.4" fill="#604A7B"/>
<polygon points="729.0,444.5 742.7,458.2 729.0,471.9 715.3,458.2" fill="#604A7B"/>
<polygon points="840.5,388.9 854.2,402.6 840.5,416.3 826.8,402.6" fill="#604A7B"/>
<polygon points="951.3,335.6 965.0,349.3 951.3,363.0 937.6,349.3" fill="#604A7B"/>
<polygon points="1062.7,315.1 1076.4,328.8 1062.7,342.5 1049.0,328.8" fill="#604A7B"/>
<circle cx="612.3" cy="469.3" r="9.10" fill="none" stroke="#31859C" stroke-width="2.2"/>
<circle cx="723.5" cy="436.8" r="9.10" fill="none" stroke="#31859C" stroke-width="2.2"/>
<circle cx="835.7" cy="346.9" r="9.10" fill="none" stroke="#31859C" stroke-width="2.2"/>
<circle cx="947.0" cy="260.0" r="9.10" fill="none" stroke="#31859C" stroke-width="2.2"/>
<circle cx="1058.6" cy="248.2" r="9.10" fill="none" stroke="#31859C" stroke-width="2.2"/>
<rect x="597.7" y="461.4" width="18.2" height="18.2" fill="none" stroke="#E46C0A" stroke-width="2.2"/>
<rect x="709.6" y="428.6" width="18.2" height="18.2" fill="none" stroke="#E46C0A" stroke-width="2.2"/>
<rect x="820.8" y="326.9" width="18.2" height="18.2" fill="none" stroke="#E46C0A" stroke-width="2.2"/>
<rect x="931.7" y="223.9" width="18.2" height="18.2" fill="none" stroke="#E46C0A" stroke-width="2.2"/>
<rect x="1043.0" y="201.7" width="18.2" height="18.2" fill="none" stroke="#E46C0A" stroke-width="2.2"/>
<polygon points="633.0,452.2 643.7,472.5 622.3,472.5" fill="none" stroke="#95B3D7" stroke-width="2.2" stroke-linejoin="miter"/>
<polygon points="744.8,395.1 755.5,415.4 734.1,415.4" fill="none" stroke="#95B3D7" stroke-width="2.2" stroke-linejoin="miter"/>
<polygon points="856.4,255.1 867.1,275.4 845.7,275.4" fill="none" stroke="#95B3D7" stroke-width="2.2" stroke-linejoin="miter"/>
<polygon points="967.7,156.8 978.4,177.1 957.0,177.1" fill="none" stroke="#95B3D7" stroke-width="2.2" stroke-linejoin="miter"/>
<polygon points="1079.2,140.0 1089.9,160.3 1068.5,160.3" fill="none" stroke="#95B3D7" stroke-width="2.2" stroke-linejoin="miter"/>
<polygon points="616.2,447.7 628.4,459.8 616.2,471.9 604.1,459.8" fill="none" stroke="#D99694" stroke-width="2.2" stroke-linejoin="miter"/>
<polygon points="727.0,383.9 739.1,396.0 727.0,408.1 714.9,396.0" fill="none" stroke="#D99694" stroke-width="2.2" stroke-linejoin="miter"/>
<polygon points="838.4,222.4 850.5,234.6 838.4,246.8 826.2,234.6" fill="none" stroke="#D99694" stroke-width="2.2" stroke-linejoin="miter"/>
<polygon points="950.1,55.3 962.2,67.4 950.1,79.6 938.0,67.4" fill="none" stroke="#D99694" stroke-width="2.2" stroke-linejoin="miter"/>
<polygon points="1061.5,19.5 1073.7,31.6 1061.5,43.8 1049.3,31.6" fill="none" stroke="#D99694" stroke-width="2.2" stroke-linejoin="miter"/>
<path d="M570.4,361.4H854" fill="none" stroke="#000" stroke-width="2.2" stroke-dasharray="8.8 7.35"/>
<path d="M860.8,362.9V481.2" fill="none" stroke="#000" stroke-width="2.2" stroke-dasharray="8.8 7.3"/>
<path d="M847.2,367.7L855.4,362.1" fill="none" stroke="#000" stroke-width="2.2"/>
<path d="M850.1,349.8L870.1,369.8M870.1,349.8L850.1,369.8" stroke="#000" stroke-width="2.3" fill="none"/>
</g>
<g id="legend-top">
<circle cx="598.2" cy="96.8" r="10.80" fill="#376092"/>
<text transform="translate(620.67,105.70) scale(1.0300,1)" font-size="25.2" font-family='"Liberation Sans", Arial, Helvetica, sans-serif' font-weight="normal" font-style="normal">Q19</text>
<rect x="722.2" y="85.3" width="23.1" height="23.1" fill="#953735"/>
<text transform="translate(761.07,105.70) scale(1.0300,1)" font-size="25.2" font-family='"Liberation Sans", Arial, Helvetica, sans-serif' font-weight="normal" font-style="normal">Q25</text>
<polygon points="598.2,136.3 610.7,160.3 585.7,160.3" fill="#77933C"/>
<text transform="translate(620.67,157.20) scale(1.0300,1)" font-size="25.2" font-family='"Liberation Sans", Arial, Helvetica, sans-serif' font-weight="normal" font-style="normal">Q32</text>
<polygon points="733.7,134.8 747.2,148.3 733.7,161.8 720.2,148.3" fill="#604A7B"/>
<text transform="translate(761.07,157.20) scale(1.0300,1)" font-size="25.2" font-family='"Liberation Sans", Arial, Helvetica, sans-serif' font-weight="normal" font-style="normal">Q38</text>
<circle cx="598.2" cy="199.5" r="9.66" fill="none" stroke="#31859C" stroke-width="2.2"/>
<text transform="translate(620.67,208.40) scale(1.0300,1)" font-size="25.2" font-family='"Liberation Sans", Arial, Helvetica, sans-serif' font-weight="normal" font-style="normal">Q44</text>
<rect x="723.7" y="189.5" width="20.0" height="20.0" fill="none" stroke="#E46C0A" stroke-width="2.2"/>
<text transform="translate(761.07,208.40) scale(1.0300,1)" font-size="25.2" font-family='"Liberation Sans", Arial, Helvetica, sans-serif' font-weight="normal" font-style="normal">Q48</text>
<polygon points="598.2,242.1 608.2,261.0 588.2,261.0" fill="none" stroke="#95B3D7" stroke-width="2.2" stroke-linejoin="miter"/>
<text transform="translate(620.67,259.80) scale(1.0300,1)" font-size="25.2" font-family='"Liberation Sans", Arial, Helvetica, sans-serif' font-weight="normal" font-style="normal">Q55</text>
<polygon points="733.7,239.2 745.4,250.9 733.7,262.6 722.0,250.9" fill="none" stroke="#D99694" stroke-width="2.2" stroke-linejoin="miter"/>
<text transform="translate(761.07,259.80) scale(1.0300,1)" font-size="25.2" font-family='"Liberation Sans", Arial, Helvetica, sans-serif' font-weight="normal" font-style="normal">Q72</text>
<path d="M588,292.9L608.6,313.5M608.6,292.9L588,313.5" stroke="#000" stroke-width="2.2" fill="none"/>
<text transform="translate(620.67,315.60) scale(1.0407,1)" font-size="16.6" font-family='"Liberation Sans", Arial, Helvetica, sans-serif' font-weight="normal" font-style="normal">avg</text>
<text transform="translate(648.10,310.80) scale(0.9989,1)" font-size="25.2" font-family='"Liberation Sans", Arial, Helvetica, sans-serif' font-weight="normal" font-style="normal">Q41.83</text>
<text transform="translate(587.16,34.30) scale(0.9997,1)" font-size="25.3" font-family='"Liberation Sans", Arial, Helvetica, sans-serif' font-weight="bold" font-style="normal">mHTT assay</text>
</g>
<g id="legend-bot">
<circle cx="290.4" cy="671.4" r="10.80" fill="#376092"/>
<text transform="translate(313.47,680.10) scale(1.0300,1)" font-size="25.2" font-family='"Liberation Sans", Arial, Helvetica, sans-serif' font-weight="normal" font-style="normal">Q19</text>
<rect x="399.8" y="659.9" width="23.1" height="23.1" fill="#953735"/>
<text transform="translate(438.37,680.10) scale(1.0300,1)" font-size="25.2" font-family='"Liberation Sans", Arial, Helvetica, sans-serif' font-weight="normal" font-style="normal">Q25</text>
<polygon points="290.4,710.8 302.9,734.8 277.9,734.8" fill="#77933C"/>
<text transform="translate(313.47,731.50) scale(1.0300,1)" font-size="25.2" font-family='"Liberation Sans", Arial, Helvetica, sans-serif' font-weight="normal" font-style="normal">Q32</text>
<polygon points="411.3,709.3 424.8,722.8 411.3,736.3 397.8,722.8" fill="#604A7B"/>
<text transform="translate(438.37,731.50) scale(1.0300,1)" font-size="25.2" font-family='"Liberation Sans", Arial, Helvetica, sans-serif' font-weight="normal" font-style="normal">Q38</text>
<circle cx="290.4" cy="774.2" r="9.66" fill="none" stroke="#31859C" stroke-width="2.2"/>
<text transform="translate(313.47,782.90) scale(1.0300,1)" font-size="25.2" font-family='"Liberation Sans", Arial, Helvetica, sans-serif' font-weight="normal" font-style="normal">Q44</text>
<rect x="401.3" y="764.2" width="20.0" height="20.0" fill="none" stroke="#E46C0A" stroke-width="2.2"/>
<text transform="translate(438.37,782.90) scale(1.0300,1)" font-size="25.2" font-family='"Liberation Sans", Arial, Helvetica, sans-serif' font-weight="normal" font-style="normal">Q48</text>
<polygon points="290.4,817.0 300.4,835.9 280.4,835.9" fill="none" stroke="#95B3D7" stroke-width="2.2" stroke-linejoin="miter"/>
<text transform="translate(313.47,834.50) scale(1.0300,1)" font-size="25.2" font-family='"Liberation Sans", Arial, Helvetica, sans-serif' font-weight="normal" font-style="normal">Q55</text>
<polygon points="411.3,814.1 423.0,825.8 411.3,837.5 399.6,825.8" fill="none" stroke="#D99694" stroke-width="2.2" stroke-linejoin="miter"/>
<text transform="translate(438.37,834.50) scale(1.0300,1)" font-size="25.2" font-family='"Liberation Sans", Arial, Helvetica, sans-serif' font-weight="normal" font-style="normal">Q72</text>
<text transform="translate(279.24,589.90) scale(1.0095,1)" font-size="25.3" font-family='"Liberation Sans", Arial, Helvetica, sans-serif' font-weight="bold" font-style="normal">Total HTT assay</text>
</g>
<text transform="translate(876.33,564.40) scale(1.0107,1)" font-size="25.2" font-family='"Liberation Sans", Arial, Helvetica, sans-serif' font-weight="normal" font-style="normal">GST-FLAG-HTTexon1</text><text transform="translate(1140.49,564.40) scale(1.0198,1)" font-size="25.2" font-family='"Liberation Sans", Arial, Helvetica, sans-serif' font-weight="normal" font-style="normal">(pM)</text>
<text transform="translate(397.73,1056.80) scale(1.0090,1)" font-size="25.2" font-family='"Liberation Sans", Arial, Helvetica, sans-serif' font-weight="normal" font-style="normal">GST-FLAG-HTTexon1</text><text transform="translate(662.01,1056.80) scale(1.0116,1)" font-size="25.2" font-family='"Liberation Sans", Arial, Helvetica, sans-serif' font-weight="normal" font-style="normal">(pM)</text>
<text transform="translate(490.40,261.95) rotate(-90) scale(0.9842,1)" font-size="25.2" font-family='"Liberation Sans", Arial, Helvetica, sans-serif' font-weight="normal" font-style="normal">MSD</text>
<text transform="translate(490.40,200.14) rotate(-90) scale(1.0056,1)" font-size="25.2" font-family='"Liberation Sans", Arial, Helvetica, sans-serif' font-weight="normal" font-style="normal">Signal</text>
<text transform="translate(490.40,119.39) rotate(-90) scale(1.0076,1)" font-size="25.2" font-family='"Liberation Sans", Arial, Helvetica, sans-serif' font-weight="normal" font-style="normal">(A.U.)</text>
<text transform="translate(159.70,949.28) rotate(-90) scale(0.9501,1)" font-size="25.2" font-family='"Liberation Sans", Arial, Helvetica, sans-serif' font-weight="normal" font-style="normal">MSD</text>
<text transform="translate(159.70,888.51) rotate(-90) scale(1.0681,1)" font-size="25.2" font-family='"Liberation Sans", Arial, Helvetica, sans-serif' font-weight="normal" font-style="normal">Signal</text>
<text transform="translate(159.70,801.52) rotate(-90) scale(0.9677,1)" font-size="25.2" font-family='"Liberation Sans", Arial, Helvetica, sans-serif' font-weight="normal" font-style="normal">(A.U.)</text>
<text transform="translate(14.81,334.90) scale(1.0031,1)" font-size="25.2" font-family='"Liberation Sans", Arial, Helvetica, sans-serif' font-weight="normal" font-style="normal">Biological</text><text transform="translate(132.58,334.90) scale(1.0200,1)" font-size="25.2" font-family='"Liberation Sans", Arial, Helvetica, sans-serif' font-weight="normal" font-style="normal">HD</text><text transform="translate(177.62,334.90) scale(0.9881,1)" font-size="25.2" font-family='"Liberation Sans", Arial, Helvetica, sans-serif' font-weight="normal" font-style="normal">sample</text>
<text transform="translate(-1.19,365.80) scale(1.0074,1)" font-size="25.2" font-family='"Liberation Sans", Arial, Helvetica, sans-serif' font-weight="normal" font-style="normal">(e.g.</text><text transform="translate(58.52,365.80) scale(0.9965,1)" font-size="25.2" font-family='"Liberation Sans", Arial, Helvetica, sans-serif' font-weight="normal" font-style="normal">tissue</text><text transform="translate(131.21,365.80) scale(0.9962,1)" font-size="25.2" font-family='"Liberation Sans", Arial, Helvetica, sans-serif' font-weight="normal" font-style="normal">lysate,</text><text transform="translate(213.59,365.80) scale(1.0368,1)" font-size="25.2" font-family='"Liberation Sans", Arial, Helvetica, sans-serif' font-weight="normal" font-style="normal">CSF)</text>
<text transform="translate(206.74,120.10) scale(0.9681,1)" font-size="25.2" font-family='"Liberation Sans", Arial, Helvetica, sans-serif' font-weight="normal" font-style="normal">Analysis</text><text transform="translate(309.60,120.10) scale(0.9802,1)" font-size="25.2" font-family='"Liberation Sans", Arial, Helvetica, sans-serif' font-weight="normal" font-style="normal">with</text>
<text transform="translate(173.12,150.50) scale(0.9651,1)" font-size="25.2" font-family='"Liberation Sans", Arial, Helvetica, sans-serif' font-weight="normal" font-style="normal">polyQ</text><text transform="translate(248.33,150.50) scale(0.9909,1)" font-size="25.2" font-family='"Liberation Sans", Arial, Helvetica, sans-serif' font-weight="normal" font-style="normal">targeting</text><text transform="translate(355.34,150.50) scale(1.0089,1)" font-size="25.2" font-family='"Liberation Sans", Arial, Helvetica, sans-serif' font-weight="normal" font-style="normal">Ab</text>
<text transform="translate(1.84,594.00) scale(0.9659,1)" font-size="25.2" font-family='"Liberation Sans", Arial, Helvetica, sans-serif' font-weight="normal" font-style="normal">Analysis</text><text transform="translate(105.00,594.00) scale(0.9848,1)" font-size="25.2" font-family='"Liberation Sans", Arial, Helvetica, sans-serif' font-weight="normal" font-style="normal">with</text>
<text transform="translate(15.91,625.00) scale(0.9961,1)" font-size="25.2" font-family='"Liberation Sans", Arial, Helvetica, sans-serif' font-weight="normal" font-style="normal">non-polyQ</text>
<text transform="translate(5.52,655.50) scale(0.9940,1)" font-size="25.2" font-family='"Liberation Sans", Arial, Helvetica, sans-serif' font-weight="normal" font-style="normal">targeting</text><text transform="translate(112.64,655.50) scale(1.0122,1)" font-size="25.2" font-family='"Liberation Sans", Arial, Helvetica, sans-serif' font-weight="normal" font-style="normal">Ab</text>
<text transform="translate(782.10,772.60) scale(1.0062,1)" font-size="25.2" font-family='"Liberation Sans", Arial, Helvetica, sans-serif' font-weight="normal" font-style="normal">Quantification</text>
<text transform="translate(723.36,803.60) scale(0.9714,1)" font-size="25.2" font-family='"Liberation Sans", Arial, Helvetica, sans-serif' font-weight="normal" font-style="normal">of</text><text transform="translate(752.94,803.60) scale(0.9528,1)" font-size="25.2" font-family='"Liberation Sans", Arial, Helvetica, sans-serif' font-weight="normal" font-style="normal">total</text><text transform="translate(807.61,803.60) scale(1.0262,1)" font-size="25.2" font-family='"Liberation Sans", Arial, Helvetica, sans-serif' font-weight="normal" font-style="normal">GST-FLAG-HTT</text>
<text transform="translate(1332.64,511.60) scale(0.9929,1)" font-size="25.2" font-family='"Liberation Sans", Arial, Helvetica, sans-serif' font-weight="normal" font-style="normal">Estimation</text><text transform="translate(1460.43,511.60) scale(1.0015,1)" font-size="25.2" font-family='"Liberation Sans", Arial, Helvetica, sans-serif' font-weight="normal" font-style="normal">of</text><text transform="translate(1490.23,511.60) scale(0.9798,1)" font-size="25.2" font-family='"Liberation Sans", Arial, Helvetica, sans-serif' font-weight="normal" font-style="normal">the</text>
<text transform="translate(1306.63,542.00) scale(0.9956,1)" font-size="25.2" font-family='"Liberation Sans", Arial, Helvetica, sans-serif' font-weight="normal" font-style="normal">average</text><text transform="translate(1406.99,542.00) scale(0.9841,1)" font-size="25.2" font-family='"Liberation Sans", Arial, Helvetica, sans-serif' font-weight="normal" font-style="normal">polyQ</text><text transform="translate(1482.22,542.00) scale(0.9898,1)" font-size="25.2" font-family='"Liberation Sans", Arial, Helvetica, sans-serif' font-weight="normal" font-style="normal">length</text>
<text transform="translate(1297.70,573.00) scale(0.9162,1)" font-size="25.2" font-family='"Liberation Sans", Arial, Helvetica, sans-serif' font-weight="normal" font-style="normal">by</text><text transform="translate(1331.69,573.00) scale(1.0049,1)" font-size="25.2" font-family='"Liberation Sans", Arial, Helvetica, sans-serif' font-weight="normal" font-style="normal">mathematical</text><text transform="translate(1492.14,573.00) scale(0.9775,1)" font-size="25.2" font-family='"Liberation Sans", Arial, Helvetica, sans-serif' font-weight="normal" font-style="normal">model</text>
<text transform="translate(1273.02,1012.10) scale(1.0459,1)" font-size="25.2" font-family='"Liberation Sans", Arial, Helvetica, sans-serif' font-weight="normal" font-style="normal">in</text><text transform="translate(1301.04,1012.10) scale(0.9619,1)" font-size="25.2" font-family='"Liberation Sans", Arial, Helvetica, sans-serif' font-weight="normal" font-style="normal">the</text><text transform="translate(1343.64,1012.10) scale(0.9759,1)" font-size="25.2" font-family='"Liberation Sans", Arial, Helvetica, sans-serif' font-weight="normal" font-style="normal">linear</text><text transform="translate(1413.95,1012.10) scale(0.9832,1)" font-size="25.2" font-family='"Liberation Sans", Arial, Helvetica, sans-serif' font-weight="normal" font-style="normal">dynamic</text><text transform="translate(1516.71,1012.10) scale(0.9923,1)" font-size="25.2" font-family='"Liberation Sans", Arial, Helvetica, sans-serif' font-weight="normal" font-style="normal">range</text>
<g id="formulas">
<text transform="translate(1230.25,833.40) scale(1.0800,1)" font-size="17.0" letter-spacing="0.913" font-family='"Liberation Serif", "DejaVu Serif", serif' font-weight="normal" font-style="italic" stroke="#000" stroke-width="0.3">avg</text>
<text transform="translate(1260.26,828.90) scale(0.7690,1)" font-size="24.5" letter-spacing="0.000" font-family='"Liberation Serif", "DejaVu Serif", serif' font-weight="normal" font-style="italic" stroke="#000" stroke-width="0.45">Q</text>
<text transform="translate(1283.72,828.90) scale(1.0700,1)" font-size="24.5" letter-spacing="1.636" font-family='"Liberation Serif", "DejaVu Serif", serif' font-weight="normal" font-style="italic" stroke="#000" stroke-width="0.45">length</text>
<text transform="translate(1366.35,828.90) scale(1.3430,1)" font-size="24.5" letter-spacing="0.000" font-family='"Liberation Serif", "DejaVu Serif", serif' font-weight="normal" font-style="normal" stroke="#000" stroke-width="0.45">=</text>
<text transform="translate(1392.20,828.90) scale(1.2997,1)" font-size="24.5" letter-spacing="0.000" font-family='"Liberation Serif", "DejaVu Serif", serif' font-weight="normal" font-style="italic" stroke="#000" stroke-width="0.45">f</text>
<path d="M1425.4,791.1C1410.1,808.9 1410.1,836.9 1425.4,854.7C1413.5,836.9 1413.5,808.9 1425.4,791.1Z" fill="#000" stroke="#000" stroke-width="0.9"/>
<path d="M1603.6,791.1C1618.9,808.9 1618.9,836.9 1603.6,854.7C1615.5,836.9 1615.5,808.9 1603.6,791.1Z" fill="#000" stroke="#000" stroke-width="0.9"/>
<path d="M1426.1,822.4H1602.3" stroke="#000" stroke-width="1.3"/>
<text transform="translate(1446.99,810.00) scale(1.0322,1)" font-size="24.5" letter-spacing="0.000" font-family='"Liberation Serif", "DejaVu Serif", serif' font-weight="normal" font-style="normal" stroke="#000" stroke-width="0.45">mHTT</text><text transform="translate(1521.91,810.00) scale(1.0400,1)" font-size="24.5" letter-spacing="0.831" font-family='"Liberation Serif", "DejaVu Serif", serif' font-weight="normal" font-style="normal" stroke="#000" stroke-width="0.45">assay</text>
<text transform="translate(1427.55,845.70) scale(1.0400,1)" font-size="24.5" letter-spacing="0.499" font-family='"Liberation Serif", "DejaVu Serif", serif' font-weight="normal" font-style="normal" stroke="#000" stroke-width="0.45">Total</text><text transform="translate(1489.88,845.70) scale(0.9830,1)" font-size="24.5" letter-spacing="0.000" font-family='"Liberation Serif", "DejaVu Serif", serif' font-weight="normal" font-style="normal" stroke="#000" stroke-width="0.45">HTT</text><text transform="translate(1543.11,845.70) scale(1.0400,1)" font-size="24.5" letter-spacing="0.758" font-family='"Liberation Serif", "DejaVu Serif", serif' font-weight="normal" font-style="normal" stroke="#000" stroke-width="0.45">assay</text>
<text transform="translate(951.35,934.40) scale(1.0800,1)" font-size="17.0" letter-spacing="0.913" font-family='"Liberation Serif", "DejaVu Serif", serif' font-weight="normal" font-style="italic" stroke="#000" stroke-width="0.3">avg</text>
<text transform="translate(981.36,929.90) scale(0.7690,1)" font-size="24.5" letter-spacing="0.000" font-family='"Liberation Serif", "DejaVu Serif", serif' font-weight="normal" font-style="italic" stroke="#000" stroke-width="0.45">Q</text>
<text transform="translate(1004.82,929.90) scale(1.0700,1)" font-size="24.5" letter-spacing="1.636" font-family='"Liberation Serif", "DejaVu Serif", serif' font-weight="normal" font-style="italic" stroke="#000" stroke-width="0.45">length</text>
<text transform="translate(1087.45,929.90) scale(1.3430,1)" font-size="24.5" letter-spacing="0.000" font-family='"Liberation Serif", "DejaVu Serif", serif' font-weight="normal" font-style="normal" stroke="#000" stroke-width="0.45">=</text>
<text transform="translate(1113.30,929.90) scale(1.2997,1)" font-size="24.5" letter-spacing="0.000" font-family='"Liberation Serif", "DejaVu Serif", serif' font-weight="normal" font-style="italic" stroke="#000" stroke-width="0.45">f</text>
<path d="M1146.7,892.4C1131.4,910.2 1131.4,938.2 1146.7,956.0C1134.8,938.2 1134.8,910.2 1146.7,892.4Z" fill="#000" stroke="#000" stroke-width="0.9"/>
<path d="M1633.3,892.4C1648.6,910.2 1648.6,938.2 1633.3,956.0C1645.2,938.2 1645.2,910.2 1633.3,892.4Z" fill="#000" stroke="#000" stroke-width="0.9"/>
<path d="M1147.4,923.7H1630.7" stroke="#000" stroke-width="1.3"/>
<text transform="translate(1180.49,911.30) scale(0.9506,1)" font-size="24.5" letter-spacing="0.000" font-family='"Liberation Serif", "DejaVu Serif", serif' font-weight="normal" font-style="italic" stroke="#000" stroke-width="0.45">MSD</text><text transform="translate(1239.17,911.30) scale(1.0700,1)" font-size="24.5" letter-spacing="0.830" font-family='"Liberation Serif", "DejaVu Serif", serif' font-weight="normal" font-style="italic" stroke="#000" stroke-width="0.45">Signal</text><text transform="translate(1319.54,911.30) scale(1.0700,1)" font-size="24.5" letter-spacing="1.375" font-family='"Liberation Serif", "DejaVu Serif", serif' font-weight="normal" font-style="italic" stroke="#000" stroke-width="0.45">with</text><text transform="translate(1379.07,911.30) scale(1.0408,1)" font-size="24.5" letter-spacing="0.000" font-family='"Liberation Serif", "DejaVu Serif", serif' font-weight="normal" font-style="italic" stroke="#000" stroke-width="0.45">polyQ</text><text transform="translate(1450.02,911.30) scale(1.0700,1)" font-size="24.5" letter-spacing="1.882" font-family='"Liberation Serif", "DejaVu Serif", serif' font-weight="normal" font-style="italic" stroke="#000" stroke-width="0.45">targeting</text><text transform="translate(1572.14,911.30) scale(0.9961,1)" font-size="24.5" letter-spacing="0.000" font-family='"Liberation Serif", "DejaVu Serif", serif' font-weight="normal" font-style="italic" stroke="#000" stroke-width="0.45">Ab</text>
<text transform="translate(1148.99,947.00) scale(0.9605,1)" font-size="24.5" letter-spacing="0.000" font-family='"Liberation Serif", "DejaVu Serif", serif' font-weight="normal" font-style="italic" stroke="#000" stroke-width="0.45">MSD</text><text transform="translate(1207.07,947.00) scale(1.0700,1)" font-size="24.5" letter-spacing="0.998" font-family='"Liberation Serif", "DejaVu Serif", serif' font-weight="normal" font-style="italic" stroke="#000" stroke-width="0.45">Signal</text><text transform="translate(1287.94,947.00) scale(1.0700,1)" font-size="24.5" letter-spacing="1.562" font-family='"Liberation Serif", "DejaVu Serif", serif' font-weight="normal" font-style="italic" stroke="#000" stroke-width="0.45">with</text><text transform="translate(1345.68,947.00) scale(1.0700,1)" font-size="24.5" letter-spacing="0.658" font-family='"Liberation Serif", "DejaVu Serif", serif' font-weight="normal" font-style="italic" stroke="#000" stroke-width="0.45">non−polyQ</text><text transform="translate(1481.82,947.00) scale(1.0700,1)" font-size="24.5" letter-spacing="1.846" font-family='"Liberation Serif", "DejaVu Serif", serif' font-weight="normal" font-style="italic" stroke="#000" stroke-width="0.45">targeting</text><text transform="translate(1604.22,947.00) scale(0.9817,1)" font-size="24.5" letter-spacing="0.000" font-family='"Liberation Serif", "DejaVu Serif", serif' font-weight="normal" font-style="italic" stroke="#000" stroke-width="0.45">Ab</text>
</g>
</svg>
</body>
</html>
